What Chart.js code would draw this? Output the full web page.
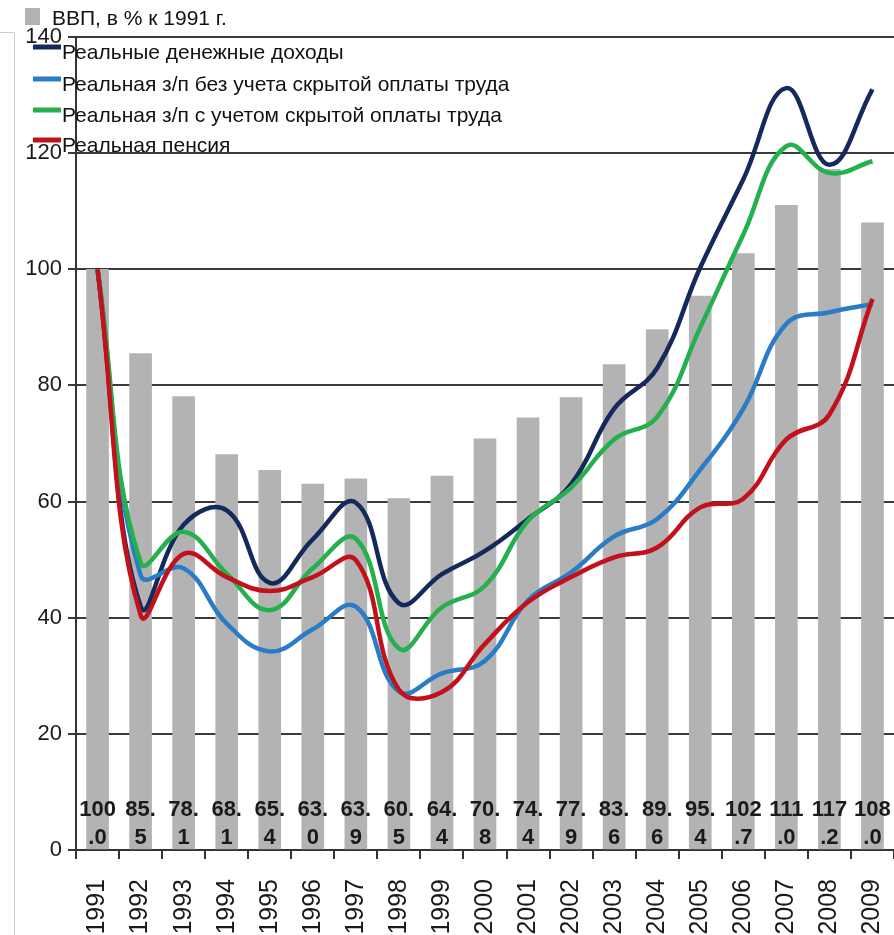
<!DOCTYPE html>
<html>
<head>
<meta charset="utf-8">
<script src="https://cdn.jsdelivr.net/npm/chart.js@4.4.1/dist/chart.umd.min.js"></script>
<style>
  html, body { margin: 0; padding: 0; background: #fff; overflow: hidden; }
  #wrap { width: 894px; height: 935px; }
</style>
</head>
<body>
<div id="wrap"><canvas id="ruChart" width="894" height="935"></canvas></div>
<script>
const years = ['1991','1992','1993','1994','1995','1996','1997','1998','1999','2000',
               '2001','2002','2003','2004','2005','2006','2007','2008','2009'];
const yTicks = [0, 20, 40, 60, 80, 100, 120, 140];

const gdpLabel = 'ВВП, в % к 1991 г.';
const gdp = [100.0, 85.5, 78.1, 68.1, 65.4, 63.0, 63.9, 60.5, 64.4, 70.8,
             74.4, 77.9, 83.6, 89.6, 95.4, 102.7, 111.0, 117.2, 108.0];

const incomeLabel = 'Реальные денежные доходы';
const income = [100, 42, 56, 58.5, 46, 53.5, 59.8, 42.5, 47.5, 51.5,
                57, 63, 76, 83, 100.3, 115.5, 131.2, 118, 131];

const wageLabel = 'Реальная з/п без учета скрытой оплаты труда';
const wage = [100, 47.3, 48.5, 39, 34.2, 38, 41.9, 27.3, 30.4, 32.6,
              43, 47.8, 54, 57, 65.5, 76, 90.6, 92.6, 94];

const wageHiddenLabel = 'Реальная з/п с учетом скрытой оплаты труда';
const wageHidden = [100, 49.5, 54.8, 47.6, 41.3, 48.5, 53.6, 34.7, 41.8, 45.5,
                    56.7, 62.4, 70.7, 74.6, 90, 106, 121.2, 116.6, 118.6];

const pensionLabel = 'Реальная пенсия';
const pension = [100, 40.5, 51, 47, 44.6, 47, 49.9, 27.6, 27.2, 35.5,
                 42.7, 47, 50.4, 52.1, 59, 60.5, 70.7, 75, 94.9];

// подписи значений ВВП внизу столбцов (в две строки)
const barLabelsPlugin = {
  id: 'barLabels',
  afterDatasetsDraw(chart) {
    const meta = chart.getDatasetMeta(0);
    const ctx = chart.ctx;
    ctx.save();
    ctx.font = 'bold 22px "Liberation Sans", Arial, sans-serif';
    ctx.fillStyle = '#1a1a1a';
    ctx.textAlign = 'center';
    ctx.textBaseline = 'alphabetic';
    meta.data.forEach((bar, i) => {
      const s = gdp[i].toFixed(1);
      ctx.fillText(s.slice(0, 3), bar.x, 816);
      ctx.fillText(s.slice(3), bar.x, 844);
    });
    ctx.restore();
  }
};

// легенда поверх области графика, как в оригинале
const legendPlugin = {
  id: 'topLegend',
  afterDraw(chart) {
    const ctx = chart.ctx;
    const ds = chart.data.datasets;
    ctx.save();
    // рамка слева
    ctx.strokeStyle = '#cfcfcf';
    ctx.lineWidth = 1;
    ctx.beginPath();
    ctx.moveTo(0, 32.5);
    ctx.lineTo(14.5, 32.5);
    ctx.lineTo(14.5, 935);
    ctx.stroke();

    ctx.font = '21px "Liberation Sans", Arial, sans-serif';
    ctx.textAlign = 'left';
    ctx.textBaseline = 'alphabetic';
    ctx.fillStyle = ds[0].backgroundColor;
    ctx.fillRect(25, 8, 15, 17);
    ctx.fillStyle = '#111';
    ctx.fillText(ds[0].label, 52, 25);

    const rows = [47, 79, 110, 140];
    for (let i = 1; i < ds.length; i++) {
      const y = rows[i - 1];
      ctx.strokeStyle = ds[i].borderColor;
      ctx.lineWidth = 5;
      ctx.beginPath();
      ctx.moveTo(33, y);
      ctx.lineTo(61, y);
      ctx.stroke();
      ctx.fillStyle = '#111';
      ctx.fillText(ds[i].label, 62, y + 12);
    }
    ctx.restore();
  }
};

function lineSet(label, data, color, order) {
  return {
    type: 'line',
    label: label,
    data: data,
    borderColor: color,
    backgroundColor: color,
    borderWidth: 4.5,
    pointRadius: 0,
    tension: 0.42,
    fill: false,
    order: order
  };
}

new Chart(document.getElementById('ruChart'), {
  type: 'bar',
  data: {
    labels: years,
    datasets: [
      {
        type: 'bar',
        label: gdpLabel,
        data: gdp,
        backgroundColor: '#b3b3b3',
        barThickness: 22,
        order: 10
      },
      lineSet(incomeLabel, income, '#15295c', 4),
      lineSet(wageLabel, wage, '#2b7cc6', 3),
      lineSet(wageHiddenLabel, wageHidden, '#25b04e', 2),
      lineSet(pensionLabel, pension, '#c2111a', 1)
    ]
  },
  options: {
    responsive: false,
    animation: false,
    layout: { padding: { top: 37, left: 0, right: 0, bottom: 0 } },
    plugins: {
      legend: { display: false },
      tooltip: { enabled: false }
    },
    scales: {
      x: {
        offset: true,
        grid: {
          offset: true,
          drawOnChartArea: false,
          drawTicks: true,
          tickLength: 9,
          color: '#333',
          lineWidth: 2
        },
        border: { color: '#333', width: 2 },
        ticks: {
          minRotation: 90,
          maxRotation: 90,
          autoSkip: false,
          padding: 20,
          color: '#1a1a1a',
          font: { size: 25, family: '"Liberation Sans", Arial, sans-serif' }
        },
        afterFit(scale) {
          scale.height = 85;
          scale.paddingLeft = 0;
          scale.paddingRight = 0;
        }
      },
      y: {
        min: 0,
        max: 140,
        afterBuildTicks(scale) { scale.ticks = yTicks.map(v => ({ value: v })); },
        grid: {
          color: '#3a3a3a',
          lineWidth: 2,
          tickLength: 8
        },
        border: { color: '#333', width: 2 },
        ticks: {
          padding: 6,
          color: '#1a1a1a',
          font: { size: 22, family: '"Liberation Sans", Arial, sans-serif' }
        },
        afterFit(scale) { scale.width = 76; }
      }
    }
  },
  plugins: [barLabelsPlugin, legendPlugin]
});
</script>
</body>
</html>
